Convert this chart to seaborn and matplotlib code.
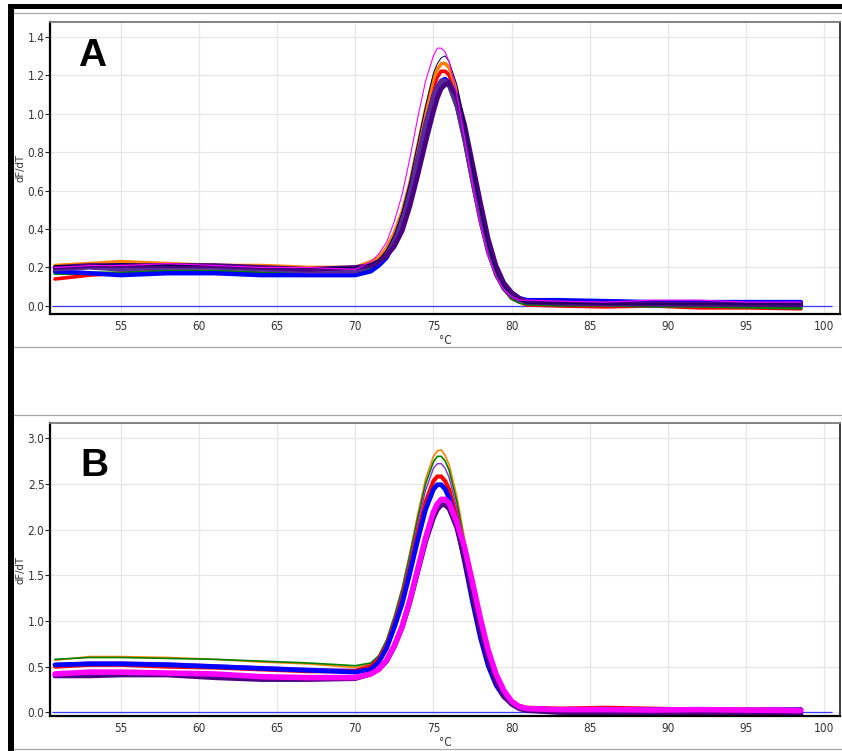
import pandas as pd
import matplotlib
matplotlib.use("Agg")
import matplotlib.pyplot as plt
from matplotlib.patches import Rectangle
from matplotlib.lines import Line2D
from matplotlib.ticker import FormatStrFormatter
import seaborn as sns

# melt curve readings (temperature in degC, dF/dT per well colour)
temps = [50.8, 53, 55, 58, 61, 64, 67, 70,
         71, 71.5, 72, 72.5, 73, 73.5, 74, 74.5, 75, 75.25, 75.5, 75.75, 76, 76.5,
         77, 77.5, 78, 78.5, 79, 79.5, 80, 80.5, 81,
         83, 86, 89, 92, 95, 98.5]

# panel A
a_red = [0.14, 0.16, 0.17, 0.18, 0.18, 0.17, 0.16, 0.17,
         0.19, 0.22, 0.27, 0.34, 0.46, 0.61, 0.79, 0.98, 1.14, 1.19, 1.22, 1.22, 1.20, 1.08,
         0.89, 0.67, 0.46, 0.29, 0.16, 0.09, 0.04, 0.02, 0.005,
         0.0, -0.005, 0.0, -0.01, -0.01, -0.015]
a_green = [0.17, 0.17, 0.17, 0.18, 0.18, 0.17, 0.17, 0.17,
           0.19, 0.21, 0.25, 0.33, 0.43, 0.58, 0.75, 0.93, 1.08, 1.13, 1.16, 1.16, 1.14, 1.03,
           0.85, 0.64, 0.44, 0.28, 0.16, 0.09, 0.04, 0.02, 0.01,
           0.005, 0.005, 0.0, 0.0, -0.005, -0.01]
a_orange = [0.21, 0.22, 0.23, 0.22, 0.21, 0.21, 0.20, 0.20,
            0.23, 0.25, 0.30, 0.38, 0.49, 0.64, 0.83, 1.02, 1.18, 1.23, 1.26, 1.26, 1.24, 1.12,
            0.92, 0.70, 0.48, 0.30, 0.18, 0.10, 0.05, 0.03, 0.02,
            0.015, 0.012, 0.01, 0.01, 0.012, 0.01]
a_blue = [0.18, 0.17, 0.16, 0.17, 0.17, 0.16, 0.16, 0.16,
          0.18, 0.21, 0.25, 0.33, 0.43, 0.58, 0.76, 0.94, 1.09, 1.14, 1.17, 1.18, 1.16, 1.05,
          0.87, 0.66, 0.46, 0.29, 0.18, 0.10, 0.06, 0.04, 0.03,
          0.03, 0.025, 0.02, 0.02, 0.02, 0.02]
a_violet = [0.19, 0.20, 0.19, 0.20, 0.20, 0.19, 0.18, 0.18,
            0.21, 0.23, 0.27, 0.35, 0.45, 0.60, 0.77, 0.95, 1.09, 1.14, 1.17, 1.17, 1.15, 1.04,
            0.86, 0.65, 0.45, 0.28, 0.17, 0.09, 0.05, 0.03, 0.02,
            0.015, 0.01, 0.01, 0.008, 0.008, 0.01]
a_indigo = [0.20, 0.21, 0.21, 0.21, 0.21, 0.20, 0.19, 0.20,
            0.21, 0.23, 0.26, 0.31, 0.39, 0.52, 0.68, 0.85, 1.01, 1.08, 1.13, 1.15, 1.16, 1.09,
            0.94, 0.74, 0.54, 0.35, 0.21, 0.12, 0.07, 0.04, 0.02,
            0.015, 0.012, 0.01, 0.01, 0.008, 0.005]
a_navy = [0.21, 0.21, 0.22, 0.21, 0.21, 0.20, 0.20, 0.20,
          0.22, 0.24, 0.29, 0.37, 0.49, 0.65, 0.85, 1.04, 1.21, 1.26, 1.29, 1.30, 1.27, 1.15,
          0.95, 0.72, 0.50, 0.31, 0.18, 0.10, 0.05, 0.03, 0.015,
          0.015, 0.01, 0.01, 0.01, 0.01, 0.01]
a_magenta = [0.20, 0.21, 0.21, 0.22, 0.21, 0.20, 0.20, 0.19,
             0.23, 0.27, 0.33, 0.44, 0.58, 0.77, 0.98, 1.17, 1.30, 1.34, 1.34, 1.32, 1.27, 1.10,
             0.87, 0.63, 0.42, 0.26, 0.15, 0.085, 0.05, 0.03, 0.03,
             0.025, 0.02, 0.03, 0.03, 0.02, 0.02]

# panel B
b_orange = [0.57, 0.61, 0.61, 0.60, 0.58, 0.55, 0.53, 0.49,
            0.53, 0.60, 0.78, 1.05, 1.36, 1.75, 2.17, 2.55, 2.80, 2.86, 2.87, 2.81, 2.71, 2.36,
            1.89, 1.39, 0.94, 0.59, 0.34, 0.19, 0.11, 0.06, 0.045,
            0.03, 0.03, 0.03, 0.025, 0.025, 0.03]
b_green = [0.58, 0.60, 0.60, 0.59, 0.58, 0.56, 0.54, 0.51,
           0.54, 0.62, 0.79, 1.05, 1.35, 1.73, 2.13, 2.50, 2.74, 2.80, 2.80, 2.75, 2.65, 2.30,
           1.84, 1.35, 0.92, 0.57, 0.33, 0.19, 0.11, 0.06, 0.04,
           0.03, 0.03, 0.025, 0.025, 0.02, 0.02]
b_purple = [0.53, 0.55, 0.55, 0.54, 0.52, 0.50, 0.48, 0.47,
            0.52, 0.60, 0.77, 1.02, 1.31, 1.67, 2.07, 2.43, 2.67, 2.72, 2.72, 2.67, 2.57, 2.23,
            1.78, 1.31, 0.88, 0.55, 0.32, 0.17, 0.09, 0.05, 0.03,
            0.02, 0.02, 0.02, 0.015, 0.015, 0.015]
b_red = [0.50, 0.52, 0.52, 0.50, 0.49, 0.47, 0.45, 0.45,
         0.50, 0.58, 0.73, 0.96, 1.24, 1.58, 1.96, 2.30, 2.53, 2.58, 2.58, 2.53, 2.44, 2.12,
         1.70, 1.26, 0.85, 0.54, 0.32, 0.19, 0.11, 0.07, 0.05,
         0.04, 0.05, 0.04, 0.03, 0.03, 0.03]
b_blue = [0.52, 0.53, 0.53, 0.52, 0.50, 0.48, 0.46, 0.44,
          0.47, 0.55, 0.70, 0.93, 1.19, 1.53, 1.89, 2.22, 2.44, 2.49, 2.49, 2.44, 2.35, 2.05,
          1.64, 1.21, 0.82, 0.51, 0.30, 0.17, 0.10, 0.06, 0.04,
          0.03, 0.03, 0.03, 0.025, 0.025, 0.03]
b_indigo = [0.40, 0.40, 0.41, 0.41, 0.38, 0.36, 0.36, 0.37,
            0.42, 0.47, 0.56, 0.72, 0.93, 1.21, 1.54, 1.87, 2.13, 2.22, 2.27, 2.27, 2.23, 2.02,
            1.68, 1.28, 0.90, 0.58, 0.34, 0.18, 0.09, 0.04, 0.02,
            0.0, -0.01, -0.01, -0.01, -0.015, -0.015]
b_magenta = [0.42, 0.44, 0.44, 0.43, 0.42, 0.39, 0.38, 0.38,
             0.42, 0.47, 0.57, 0.73, 0.94, 1.23, 1.57, 1.91, 2.19, 2.28, 2.33, 2.33, 2.29, 2.08,
             1.80, 1.42, 1.03, 0.68, 0.42, 0.24, 0.12, 0.06, 0.04,
             0.03, 0.03, 0.025, 0.03, 0.025, 0.02]

x_ticks = [55, 60, 65, 70, 75, 80, 85, 90, 95, 100]
a_yticks = [0.0, 0.2, 0.4, 0.6, 0.8, 1.0, 1.2, 1.4]
b_yticks = [0.0, 0.5, 1.0, 1.5, 2.0, 2.5, 3.0]
zero_span = (50.6, 100.5)

well_colors = {"red": "#ff0000", "green": "#008000", "orange": "#ff8000", "blue": "#0000ff",
               "violet": "#5a2a9a", "indigo": "#4b0082", "navy": "#000050",
               "magenta": "#ff00ff", "purple": "#8a2be2"}

sns.set_theme(style="whitegrid")
plt.rcParams['font.family'] = ['Liberation Sans Narrow', 'DejaVu Sans']
plt.rcParams['font.stretch'] = 'condensed'

W, H = 842, 751
fig = plt.figure(figsize=(W / 100, H / 100), dpi=100)
fig.patch.set_facecolor("white")


def px_rect(x0, y0, x1, y1, color):
    fig.add_artist(Rectangle((x0 / W, 1 - y1 / H), (x1 - x0) / W, (y1 - y0) / H,
                             transform=fig.transFigure, color=color, lw=0))


def px_hline(y, x0, x1, color="#a8a8a8"):
    fig.add_artist(Line2D([x0 / W, x1 / W], [1 - y / H, 1 - y / H],
                          transform=fig.transFigure, color=color, lw=0.9))


def draw_panel(ax, curves, widths, yticks, ylim, letter, letter_xy):
    rows = []
    for name, vals in curves.items():
        for t, v in zip(temps, vals):
            rows.append({"temp": t, "dfdt": v, "well": name})
    df = pd.DataFrame(rows)
    order = list(curves.keys())
    sns.lineplot(data=df, x="temp", y="dfdt", hue="well", hue_order=order,
                 palette={k: well_colors[k] for k in order},
                 size="well", size_order=order, sizes=widths,
                 estimator=None, legend=False, ax=ax)
    ax.hlines(0, zero_span[0], zero_span[1], color="#3a3aff", lw=0.9, zorder=1)
    ax.set_xlim(50.48, 101.0)
    ax.set_ylim(*ylim)
    ax.set_xticks(x_ticks)
    ax.set_yticks(yticks)
    ax.yaxis.set_major_formatter(FormatStrFormatter("%.1f"))
    ax.grid(True, color="#e6e6e6", lw=0.9)
    ax.set_axisbelow(True)
    for side, col, lw in [("left", "black", 1.6), ("bottom", "black", 1.6),
                          ("top", "#7a7a7a", 1.3), ("right", "#303030", 1.3)]:
        ax.spines[side].set_visible(True)
        ax.spines[side].set_color(col)
        ax.spines[side].set_linewidth(lw)
    ax.tick_params(axis="y", left=True, length=3.5, width=0.8, color="#222222", pad=0.5,
                   labelsize=8.5, labelcolor="#333333")
    ax.tick_params(axis="x", bottom=False, length=0, pad=4.5,
                   labelsize=8.5, labelcolor="#333333")
    ax.set_xlabel("°C", fontsize=8.5, color="#333333")
    ax.set_ylabel("dF/dT", fontsize=8, color="#333333")
    ax.xaxis.set_label_coords(0.5, -0.068)
    ax.yaxis.set_label_coords(-0.031, 0.5)
    ax.text(letter_xy[0], letter_xy[1], letter, transform=ax.transAxes,
            fontsize=28, fontweight="bold", family="Liberation Sans", fontstretch="normal",
            color="black", va="baseline", ha="left")


# frame around the figure
px_rect(8, 4, W, 9, "black")
px_rect(8, 4, 14, H, "black")
px_hline(13, 14, W)
px_hline(347, 14, W)
px_hline(415, 14, W)
px_hline(749, 14, W)

ax_a = fig.add_axes([50 / W, 1 - 314 / H, 790 / W, 292 / H])
ax_b = fig.add_axes([50 / W, 1 - 716 / H, 790 / W, 293 / H])

draw_panel(ax_a,
           {"red": a_red, "green": a_green, "orange": a_orange, "blue": a_blue,
            "violet": a_violet, "indigo": a_indigo, "navy": a_navy, "magenta": a_magenta},
           {"red": 2.6, "green": 2.6, "orange": 2.6, "blue": 3.2, "violet": 3.2,
            "indigo": 3.4, "navy": 0.7, "magenta": 0.8},
           a_yticks, (-0.042, 1.476), "A", (0.035, 0.849))

draw_panel(ax_b,
           {"orange": b_orange, "green": b_green, "purple": b_purple, "red": b_red,
            "blue": b_blue, "indigo": b_indigo, "magenta": b_magenta},
           {"orange": 1.2, "green": 1.2, "purple": 1.0, "red": 3.0, "blue": 3.4,
            "indigo": 3.6, "magenta": 4.0},
           b_yticks, (-0.04, 3.165), "B", (0.038, 0.819))

fig.savefig("out.png", dpi=100)
